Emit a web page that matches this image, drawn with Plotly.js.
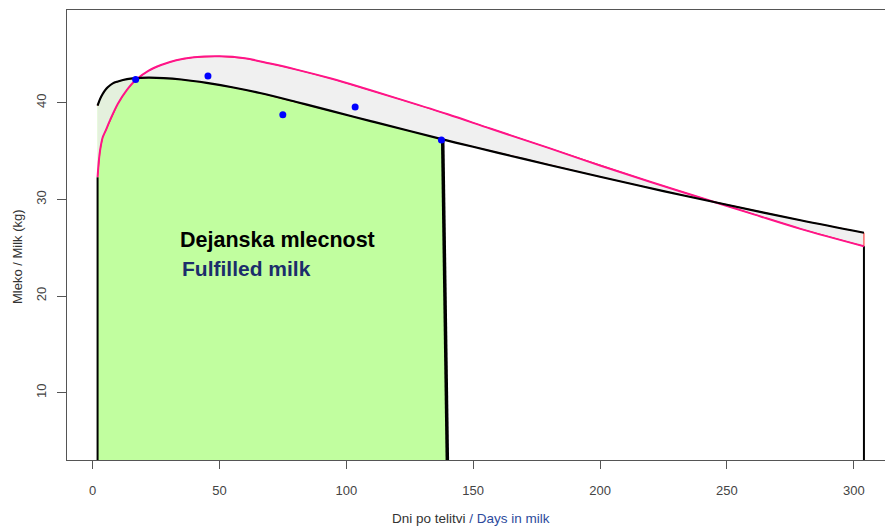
<!DOCTYPE html>
<html>
<head>
<meta charset="utf-8">
<script src="https://cdn.plot.ly/plotly-3.0.1.min.js"></script>
<style>html,body{margin:0;padding:0;background:#fff;}#chart{width:885px;height:528px;}</style>
</head>
<body>
<div id="chart"></div>
<script>
// Fitted lactation curve (black)
const fitDays = [2, 3, 4, 5, 6, 8, 10, 12, 15, 18, 22, 28, 35, 45, 55, 66, 80, 94, 110, 125, 138, 150, 165, 180, 200, 225, 250, 279, 304];
const fitMilk = [39.7, 40.4, 40.9, 41.3, 41.6, 42.0, 42.2, 42.35, 42.5, 42.55, 42.6, 42.55, 42.4, 42.05, 41.6, 41.0, 40.1, 39.15, 38.07, 37.07, 36.2, 35.44, 34.49, 33.56, 32.34, 30.86, 29.44, 27.84, 26.55];
// Standard / expected curve (pink)
const stdDays = [2, 2.5, 3, 4, 5, 7, 10, 13.5, 17, 22, 27, 33, 40, 50, 60, 70, 80, 94, 107, 120, 140, 157, 180, 200, 220, 240, 260, 279, 304];
const stdMilk = [32.3, 34.0, 35.1, 36.4, 37.0, 38.25, 39.9, 41.3, 42.35, 43.3, 43.9, 44.4, 44.7, 44.8, 44.6, 44.05, 43.45, 42.5, 41.5, 40.45, 38.8, 37.3, 35.3, 33.5, 31.8, 30.15, 28.5, 26.95, 25.15];
// Test-day records (blue points)
const testDays = [17, 45.5, 75, 103.5, 137.5];
const testMilk = [42.4, 42.75, 38.75, 39.55, 36.15];
// Last test day and day the shaded area ends at the axis
const cutDay = 138;
const dryDay = 140;
const baseMilk = 0;

const xTicks = [0, 50, 100, 150, 200, 250, 300];
const yTicks = [10, 20, 30, 40];

const labelMain = "Dejanska mlecnost";
const labelSub = "Fulfilled milk";
const xTitleSl = "Dni po telitvi";
const xTitleEn = "/ Days in milk";
const yTitle = "Mleko / Milk (kg)";

function interp(xs, ys, x) {
  for (let i = 0; i < xs.length - 1; i++) {
    if (x >= xs[i] && x <= xs[i + 1]) {
      const t = (x - xs[i]) / (xs[i + 1] - xs[i]);
      return ys[i] + t * (ys[i + 1] - ys[i]);
    }
  }
  return ys[ys.length - 1];
}

const cutMilk = interp(fitDays, fitMilk, cutDay);
const lastDay = fitDays[fitDays.length - 1];

// green area under the fitted curve until the last test day
const gX = [fitDays[0]], gY = [baseMilk];
fitDays.forEach((d, i) => { if (d < cutDay) { gX.push(d); gY.push(fitMilk[i]); } });
gX.push(cutDay, dryDay, fitDays[0]);
gY.push(cutMilk, baseMilk, baseMilk);

// band between the two curves
const bandX = stdDays.concat(fitDays.slice().reverse());
const bandY = stdMilk.concat(fitMilk.slice().reverse());

const traces = [
  {x: gX, y: gY, type: 'scatter', mode: 'lines', fill: 'toself', fillcolor: '#c1fe9f',
   line: {width: 0}, hoverinfo: 'skip', showlegend: false},
  {x: bandX, y: bandY, type: 'scatter', mode: 'lines', fill: 'toself',
   fillcolor: 'rgba(236,236,236,0.8)', line: {color: '#ff2020', width: 1},
   hoverinfo: 'skip', showlegend: false},
  {x: [fitDays[0], fitDays[0]], y: [baseMilk, stdMilk[0]], type: 'scatter', mode: 'lines',
   line: {color: '#000', width: 2}, showlegend: false},
  {x: [lastDay, lastDay], y: [baseMilk, stdMilk[stdMilk.length - 1]], type: 'scatter', mode: 'lines',
   line: {color: '#000', width: 2}, showlegend: false},
  {x: [cutDay, dryDay], y: [cutMilk, baseMilk], type: 'scatter', mode: 'lines',
   line: {color: '#000', width: 3.5}, showlegend: false},
  {x: stdDays, y: stdMilk, type: 'scatter', mode: 'lines',
   line: {color: '#ff1488', width: 2, shape: 'spline', smoothing: 1}, showlegend: false},
  {x: fitDays, y: fitMilk, type: 'scatter', mode: 'lines',
   line: {color: '#000', width: 2.2, shape: 'spline', smoothing: 1}, showlegend: false},
  {x: testDays, y: testMilk, type: 'scatter', mode: 'markers',
   marker: {color: '#0000ff', size: 7}, showlegend: false}
];

const axisFont = {family: 'Liberation Sans, Arial, sans-serif', size: 13, color: '#444'};

const layout = {
  width: 885, height: 528,
  margin: {l: 67, r: 0, t: 10, b: 68},
  paper_bgcolor: '#fff', plot_bgcolor: '#fff',
  showlegend: false,
  xaxis: {
    range: [-10.05, 312.3], tickvals: xTicks, ticktext: xTicks.map(String),
    showgrid: false, zeroline: false, showline: true, mirror: true,
    linecolor: '#555', linewidth: 1.2, ticks: 'outside', ticklen: 8, tickcolor: '#555',
    tickfont: axisFont, ticklabelstandoff: 10
  },
  yaxis: {
    range: [3.04, 49.59], tickvals: yTicks, ticktext: yTicks.map(String),
    showgrid: false, zeroline: false, showline: true, mirror: true,
    linecolor: '#555', linewidth: 1.2, ticks: 'outside', ticklen: 9, tickcolor: '#555',
    tickfont: axisFont, tickangle: -90, ticklabelstandoff: 6
  },
  annotations: [
    {x: 33.8, y: 25.8, xref: 'x', yref: 'y', xanchor: 'left', yanchor: 'middle',
     text: '<b>' + labelMain + '</b>', showarrow: false,
     font: {family: 'Liberation Sans, Arial, sans-serif', size: 21.5, color: '#000'}},
    {x: 34.6, y: 22.8, xref: 'x', yref: 'y', xanchor: 'left', yanchor: 'middle',
     text: '<b>' + labelSub + '</b>', showarrow: false,
     font: {family: 'Liberation Sans, Arial, sans-serif', size: 21, color: '#1b2d6b'}},
    {x: (471 - 67) / 818, y: -(518 - 460) / 450, xref: 'paper', yref: 'paper',
     xanchor: 'center', yanchor: 'middle', showarrow: false,
     text: xTitleSl + ' <span style="color:#2c4a9c">' + xTitleEn + '</span>',
     font: {family: 'Liberation Sans, Arial, sans-serif', size: 13.5, color: '#333'}},
    {x: -(67 - 17) / 818, y: (460 - 257) / 450, xref: 'paper', yref: 'paper',
     xanchor: 'center', yanchor: 'middle', showarrow: false, textangle: -90,
     text: yTitle,
     font: {family: 'Liberation Sans, Arial, sans-serif', size: 13, color: '#333'}}
  ]
};

Plotly.newPlot('chart', traces, layout, {displayModeBar: false, staticPlot: true});
</script>
</body>
</html>
